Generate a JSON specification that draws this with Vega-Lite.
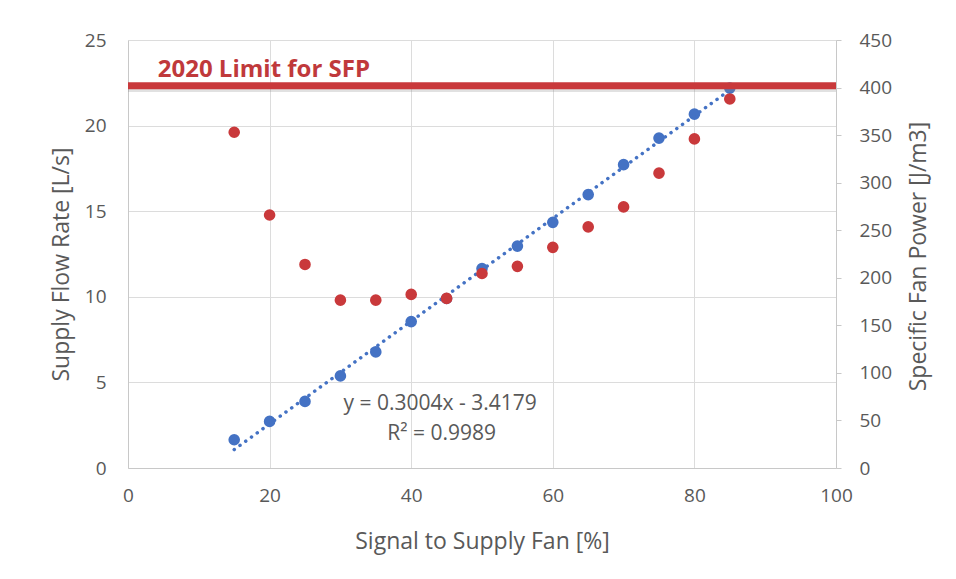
{
  "$schema": "https://vega.github.io/schema/vega-lite/v6.json",
  "width": 708,
  "height": 428,
  "autosize": {"type": "none"},
  "padding": {"left": 128, "top": 40, "right": 120, "bottom": 111},
  "background": "white",
  "config": {
    "view": {"stroke": null},
    "font": "Open Sans",
    "axis": {"labelFont": "Open Sans", "titleFont": "Open Sans", "labelColor": "#595959", "titleColor": "#595959", "labelFontSize": 19, "titleFontSize": 23, "titleFontWeight": "normal", "domainColor": "#c8c8c8", "gridColor": "#dcdcdc", "tickColor": "#c8c8c8", "labelFlush": false}
  },
  "datasets": {
    "flow": [
      {"signal": 15, "flow": 1.65},
      {"signal": 20, "flow": 2.72},
      {"signal": 25, "flow": 3.89},
      {"signal": 30, "flow": 5.38},
      {"signal": 35, "flow": 6.78},
      {"signal": 40, "flow": 8.55},
      {"signal": 45, "flow": 9.9},
      {"signal": 50, "flow": 11.65},
      {"signal": 55, "flow": 12.96},
      {"signal": 60, "flow": 14.35},
      {"signal": 65, "flow": 15.97},
      {"signal": 70, "flow": 17.72},
      {"signal": 75, "flow": 19.27},
      {"signal": 80, "flow": 20.67},
      {"signal": 85, "flow": 22.19}
    ],
    "sfp": [
      {"signal": 15, "sfp": 353},
      {"signal": 20, "sfp": 266},
      {"signal": 25, "sfp": 214},
      {"signal": 30, "sfp": 176.5},
      {"signal": 35, "sfp": 176.5},
      {"signal": 40, "sfp": 182.5},
      {"signal": 45, "sfp": 178.3},
      {"signal": 50, "sfp": 204.5},
      {"signal": 55, "sfp": 212},
      {"signal": 60, "sfp": 232},
      {"signal": 65, "sfp": 253.5},
      {"signal": 70, "sfp": 274.5},
      {"signal": 75, "sfp": 310},
      {"signal": 80, "sfp": 346},
      {"signal": 85, "sfp": 388}
    ],
    "equation": [
      {"signal": 44.1, "flow": 3.39, "label": "y = 0.3004x - 3.4179"},
      {"signal": 44.3, "flow": 1.64, "label": "R² = 0.9989"}
    ],
    "limit": [
      {"signal": 4.2, "sfp": 402, "shadow": 398, "labelY": 411, "label": "2020 Limit for SFP"}
    ]
  },
  "layer": [
    {
      "layer": [
        {
          "data": {"name": "flow"},
          "mark": {"type": "point", "filled": true, "opacity": 1, "size": 135, "color": "#4472C4"},
          "encoding": {
            "x": {"field": "signal", "type": "quantitative", "scale": {"domain": [0, 100], "nice": false},
              "axis": {"title": "Signal to Supply Fan [%]", "values": [0, 20, 40, 60, 80, 100], "ticks": false, "labelPadding": 18, "grid": true, "titleX": 354, "titleY": 73, "titleBaseline": "middle", "titleAlign": "center"}},
            "y": {"field": "flow", "type": "quantitative", "scale": {"domain": [0, 25], "nice": false},
              "axis": {"title": "Supply Flow Rate  [L/s]", "orient": "left", "values": [0, 5, 10, 15, 20, 25], "ticks": false, "labelPadding": 22, "grid": true, "titleX": -67, "titleY": 224, "titleAngle": -90, "titleBaseline": "middle", "titleAlign": "center"}}
          }
        },
        {
          "data": {"name": "flow"},
          "transform": [{"regression": "flow", "on": "signal"}],
          "mark": {"type": "line", "color": "#4472C4", "strokeWidth": 3.5, "strokeDash": [0.1, 7], "strokeCap": "round"},
          "encoding": {
            "x": {"field": "signal", "type": "quantitative"},
            "y": {"field": "flow", "type": "quantitative"}
          }
        },
        {
          "data": {"name": "equation"},
          "mark": {"type": "text", "color": "#595959", "fontSize": 21, "align": "center", "baseline": "alphabetic"},
          "encoding": {
            "x": {"field": "signal", "type": "quantitative"},
            "y": {"field": "flow", "type": "quantitative"},
            "text": {"field": "label"}
          }
        }
      ]
    },
    {
      "layer": [
        {
          "data": {"name": "sfp"},
          "mark": {"type": "point", "filled": true, "opacity": 1, "size": 135, "color": "#C9393B"},
          "encoding": {
            "x": {"field": "signal", "type": "quantitative"},
            "y": {"field": "sfp", "type": "quantitative", "scale": {"domain": [0, 450], "nice": false},
              "axis": {"title": "Specific Fan Power  [J/m3]", "orient": "right", "values": [0, 50, 100, 150, 200, 250, 300, 350, 400, 450], "ticks": true, "tickSize": 5, "labelPadding": 18, "grid": false, "titleX": 82, "titleY": 216, "titleAngle": -90, "titleBaseline": "middle", "titleAlign": "center"}}
          }
        },
        {
          "data": {"name": "limit"},
          "mark": {"type": "rule", "color": "#888888", "strokeWidth": 5, "opacity": 0.25},
          "encoding": {
            "y": {"field": "shadow", "type": "quantitative"}
          }
        },
        {
          "data": {"name": "limit"},
          "mark": {"type": "rule", "color": "#C9393B", "strokeWidth": 7},
          "encoding": {
            "y": {"field": "sfp", "type": "quantitative"}
          }
        },
        {
          "data": {"name": "limit"},
          "mark": {"type": "text", "color": "#C0393B", "fontSize": 24, "fontWeight": "bold", "align": "left", "baseline": "alphabetic"},
          "encoding": {
            "x": {"field": "signal", "type": "quantitative"},
            "y": {"field": "labelY", "type": "quantitative"},
            "text": {"field": "label"}
          }
        }
      ]
    }
  ],
  "resolve": {"scale": {"y": "independent"}, "axis": {"y": "independent"}}
}
